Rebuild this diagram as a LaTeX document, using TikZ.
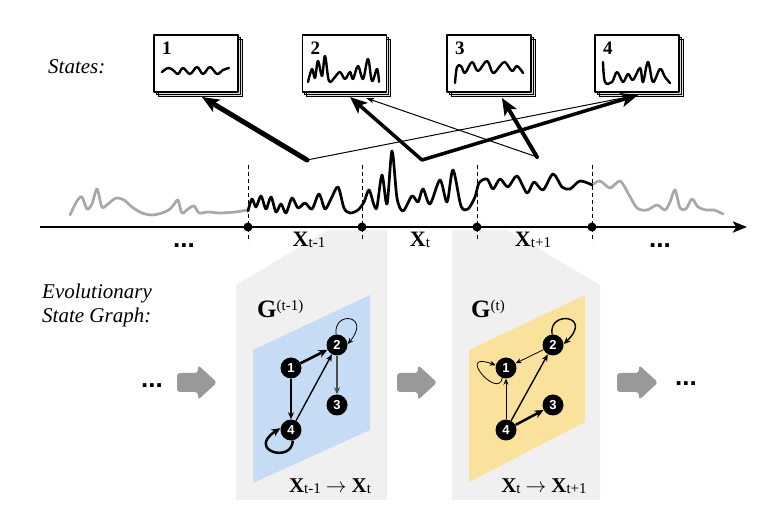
\documentclass[tikz,border=0pt]{standalone}
\usepackage{fontspec}
\setmainfont{Liberation Serif}
\newfontfamily\nodefont{Liberation Sans}
\usetikzlibrary{arrows.meta}
\newcommand{\fs}[1]{\fontsize{#1}{#1}\selectfont}
\newcommand{\Xlab}[1]{{\fs{22}\bfseries X}\raisebox{-0.5pt}{\fs{15}#1}}
\newcommand{\Xsm}[1]{{\fs{21}\bfseries X}\raisebox{-0.5pt}{\fs{15}#1}}
\newcommand{\tarrow}{\hspace{5pt}{\fs{21}$\rightarrow$}\hspace{5pt}}
\definecolor{panelgray}{HTML}{F0F0F0}
\definecolor{blueplane}{HTML}{C6DCF5}
\definecolor{yellowplane}{HTML}{FBE29C}
\definecolor{wavegray}{HTML}{A8A8A8}
\definecolor{blockgray}{HTML}{999999}
\tikzset{
 panel/.style={fill=panelgray},
 card/.style={draw=black, line width=1.3, fill=white, minimum width=84pt, minimum height=57pt, inner sep=0},
 cardback/.style={draw=black, line width=0.8, fill=gray!25},
 cardnum/.style={font=\fs{19}\bfseries, anchor=base west, inner sep=0},
 squig/.style={line width=2.4, line cap=round, line join=round},
 wave/.style={line width=2.7, line cap=round, line join=round},
 sel/.style={-{Stealth[length=17pt,width=14pt,inset=4pt]}, line cap=round},
 selthin/.style={line width=1, -{Stealth[length=8pt,width=5pt,inset=2pt]}},
 segdot/.style={circle, fill=black, minimum size=9pt, inner sep=0},
 segdash/.style={dashed, line width=0.7, dash pattern=on 4pt off 3pt},
 gnode/.style={circle, fill=black, minimum size=21pt, inner sep=0, text=white, font=\nodefont\bfseries\fs{13}},
 gthin/.style={line width=0.8, -{Stealth[length=6pt,width=5pt]}},
 gmed/.style={line width=1.4, -{Stealth[length=7pt,width=6pt]}},
 gthick/.style={line width=2.5, -{Stealth[length=9pt,width=8pt]}},
 blockarrow/.style={fill=blockgray, rounded corners=3pt},
 dots/.style={font=\nodefont\bfseries\fs{26}, anchor=base, inner sep=0},
 lbl/.style={anchor=base, inner sep=0},
}
\begin{document}
\begin{tikzpicture}[x=1pt,y=-1pt, line join=round]
\useasboundingbox (0,0) rectangle (764,518);

% gray panels and planes
\fill[panel] (236,285) -- (328,230) -- (387,230) -- (387,500) -- (236,500) -- cycle;
\fill[panel] (452,230) -- (507,230) -- (600,285) -- (600,500) -- (452,500) -- cycle;
\fill[blueplane] (253,350) -- (370,295) -- (370,430) -- (253,483) -- cycle;
\fill[yellowplane] (469,350) -- (585,295) -- (585,422) -- (469,482) -- cycle;

% labels
\node[anchor=base west, inner sep=0, font=\fs{21}\itshape] (lstates) at (48,74) {States:};
\node[anchor=base west, inner sep=0, align=left, font=\fontsize{21}{24}\selectfont\itshape] (levo) at (42,323) {Evolutionary\\State Graph:};

% state cards
\foreach \n/\cx in {1/196,2/344.5,3/489,4/637} {
  \fill[cardback] ({\cx-42+4},39) rectangle ({\cx+42+4},96);
  \fill[cardback] ({\cx-42+2},37) rectangle ({\cx+42+2},94);
  \draw[black, line width=0.8] ({\cx-42+4},39) rectangle ({\cx+42+4},96);
  \draw[black, line width=0.8] ({\cx-42+2},37) rectangle ({\cx+42+2},94);
  \node[card] (s\n) at (\cx,63.5) {};
  \node[cardnum] (n\n) at ({\cx-42+8},55) {\n};
}
\draw[squig] plot[smooth, tension=0.6] coordinates {(162,72) (168,68) (173,70) (178,74) (183,68) (190,74) (197,67) (203,74) (210,67) (217,74) (223,70) (229,68)};
\draw[squig] plot[smooth, tension=0.6] coordinates {(308,82) (312,69) (315,78) (318,61) (322,76) (325,56) (329,81) (335,77) (340,72) (345,79) (350,72) (353,79) (358,66) (363,79) (368,59) (372,81) (377,69) (379,82)};
\draw[squig] plot[smooth, tension=0.6] coordinates {(455,83) (457,67) (461,66) (465,73) (472,62) (478,71) (487,61) (493,73) (500,66) (505,62) (512,71) (517,66) (523,73)};
\draw[squig] plot[smooth, tension=0.6] coordinates {(603,62) (605,82) (612,82) (617,72) (623,82) (628,74) (633,80) (640,68) (643,82) (648,62) (653,82) (660,69) (665,77) (670,83)};

% signal
\draw[wave, wavegray] plot[smooth, tension=0.5] coordinates {(70,215) (77,201) (82,197) (87,209) (92,204) (97,189) (102,207) (108,204) (116,198) (124,200) (132,207) (142,213) (152,215) (162,213) (170,209) (175,203) (178,200) (182,213) (188,209) (194,206) (199,213) (208,212) (220,213) (235,212) (248,210)};
\draw[wave, wavegray] plot[smooth, tension=0.5] coordinates {(592,185) (600,181) (610,188) (620,181) (628,193) (637,208) (647,210) (657,205) (665,210) (670,202) (675,190) (680,208) (686,209) (692,199) (698,207) (706,210) (714,210) (723,214)};
\draw[wave, black] plot[smooth, tension=0.5] coordinates {(248,211) (252,199) (256,207) (261,196) (266,209) (271,197) (276,212) (281,204) (286,213) (292,198) (298,208) (305,203) (312,209) (319,194) (325,209) (331,199) (338,187) (344,208) (350,213) (358,210) (364,202) (369,190) (374,205) (377,207) (382,175) (387,204) (392,151) (397,198) (403,211) (412,196) (418,202) (423,189) (430,204) (440,180) (447,202) (453,170) (461,206) (468,209) (475,197) (479,183) (487,179) (493,189) (500,179) (508,187) (517,176) (527,193) (534,182) (543,190) (553,174) (562,187) (570,189) (580,181) (592,185)};

% segment boundaries
\foreach \x in {248,362,477,592} {
  \draw[segdash] (\x,165) -- (\x,242);
}
\coordinate (axL) at (40,227);
\coordinate (axR) at (747,227);
\draw[line width=2.4, -{Stealth[length=14pt,width=11pt,inset=3pt]}] (axL) -- (axR);
\node[segdot] (d1) at (248,227) {};
\node[segdot] (d2) at (362,227) {};
\node[segdot] (d3) at (477,227) {};
\node[segdot] (d4) at (592,227) {};

\node[lbl] (xa) at (309,247) {\Xlab{t-1}};
\node[lbl] (xb) at (420,247) {\Xlab{t}};
\node[lbl] (xc) at (533,247) {\Xlab{t+1}};
\node[dots] (da) at (184,248) {...};
\node[dots] (db) at (660,248) {...};

% arrows from segments to states
\coordinate (pA) at (307,160);
\coordinate (pB) at (422,160);
\coordinate (pC) at (537,157);
\coordinate (t1) at (202,97);
\coordinate (t2a) at (350,97);
\coordinate (t2b) at (366,98);
\coordinate (t3) at (502,98);
\coordinate (t4) at (638,95);
\draw[selthin] (pA) -- (t4);
\draw[selthin] (pC) -- (t2b);
\draw[sel, line width=5] (pA) -- (t1);
\draw[sel, line width=3.5] (pB) -- (t2a);
\draw[sel, line width=3.5] (pB) -- (t4);
\draw[sel, line width=4] (pC) -- (t3);

% graph labels
\node[anchor=base west, inner sep=0] (ga) at (257,318) {{\fs{25}\bfseries G}\raisebox{7pt}{\fs{15}(t-1)}};
\node[anchor=base west, inner sep=0] (gb) at (471,318) {{\fs{25}\bfseries G}\raisebox{7pt}{\fs{15}(t)}};
\node[lbl] (ta) at (330,493) {\Xsm{t-1}\tarrow\Xsm{t}};
\node[lbl] (tb) at (544,493) {\Xsm{t}\tarrow\Xsm{t+1}};

% left graph
\node[gnode] (l1) at (291,368) {1};
\node[gnode] (l2) at (337,345) {2};
\node[gnode] (l3) at (337,405) {3};
\node[gnode] (l4) at (291,430) {4};
\draw[gthick] (l1) -- (l2);
\draw[gmed] (l1) -- (l4);
\draw[gmed] (l4) -- (l2);
\draw[gmed, draw=black!70] (l2) -- (l3);
\draw[gthin] (l2.95) .. controls (333,310) and (372,315) .. (l2.5);
\draw[gthick] (l4.-80) .. controls (292,464) and (246,450) .. (l4.170);

% right graph
\node[gnode] (r1) at (506,368) {1};
\node[gnode] (r2) at (553,345) {2};
\node[gnode] (r3) at (553,405) {3};
\node[gnode] (r4) at (506,430) {4};
\draw[gthin] (r2) -- (r1);
\draw[gthin] (r4) -- (r1);
\draw[gmed] (r4) -- (r2);
\draw[gthick] (r4) -- (r3);
\draw[gthin] (r1.-110) .. controls (498,400) and (455,350) .. (r1.165);
\draw[gmed] (r2.95) .. controls (548,310) and (594,315) .. (r2.5);

% block arrows
\fill[blockarrow] (177,373) -- (198,373) -- (198,365) -- (217,382.5) -- (198,400) -- (198,392) -- (177,392) -- cycle;
\fill[blockarrow] (397,373) -- (418,373) -- (418,365) -- (437,382.5) -- (418,400) -- (418,392) -- (397,392) -- cycle;
\fill[blockarrow] (617,373) -- (639,373) -- (639,365) -- (658,382.5) -- (639,400) -- (639,392) -- (617,392) -- cycle;
\node[dots] (dc) at (152,388) {...};
\node[dots] (dd) at (686,386) {...};
\end{tikzpicture}
\end{document}
